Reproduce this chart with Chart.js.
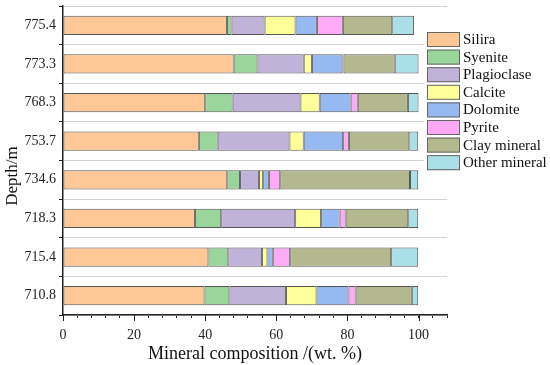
<!DOCTYPE html>
<html>
<head>
<meta charset="utf-8">
<script src="https://cdn.jsdelivr.net/npm/chart.js@4/dist/chart.umd.min.js"></script>
<style>
  html, body { margin: 0; padding: 0; background: #fff; }
  #wrap { width: 550px; height: 365px; position: relative; }
</style>
</head>
<body>
<div id="wrap"><canvas id="chart"></canvas></div>
<script>
const depths = ['775.4', '773.3', '768.3', '753.7', '734.6', '718.3', '715.4', '710.8'];

// wt. % per mineral, same order as depths
const silira      = [46.1, 48.0, 40.0, 38.2, 46.2, 37.1, 40.9, 39.8];
const syenite     = [1.3, 6.7, 7.7, 5.3, 3.6, 7.4, 5.6, 7.0];
const plagioclase = [9.3, 13.0, 19.1, 20.2, 5.3, 20.8, 9.5, 15.9];
const calcite     = [8.7, 2.3, 5.4, 4.0, 1.2, 7.3, 1.5, 8.6];
const dolomite    = [6.0, 8.6, 8.7, 11.1, 1.6, 5.2, 1.5, 9.0];
const pyrite      = [7.3, 0.3, 2.0, 1.6, 3.2, 1.7, 4.9, 2.0];
const clay        = [13.9, 14.4, 14.1, 17.0, 36.5, 17.6, 28.4, 15.8];
const other       = [6.1, 6.7, 3.0, 2.5, 2.3, 2.8, 7.6, 1.8];

const mineralNames = ['Silira', 'Syenite', 'Plagioclase', 'Calcite', 'Dolomite', 'Pyrite', 'Clay mineral', 'Other mineral'];
const mineralValues = [silira, syenite, plagioclase, calcite, dolomite, pyrite, clay, other];
const colors = ['#FDC896', '#9AD69C', '#C0B2D9', '#FFFF99', '#97B9F1', '#FEAAF6', '#B3B88F', '#AADFE7'];

const serif = '"Liberation Serif", "DejaVu Serif", serif';

// legend + y title drawn by hand so they can sit where the original puts them
const decor = {
  id: 'decor',
  afterDraw(chart) {
    const ctx = chart.ctx;
    const xs = chart.scales.x;
    ctx.save();

    // major ticks on x are longer than minor ones
    ctx.strokeStyle = '#222';
    ctx.lineWidth = 1;
    for (let v = 0; v <= 100; v += 20) {
      const px = Math.round(xs.getPixelForValue(v)) + 0.5;
      ctx.beginPath();
      ctx.moveTo(px, xs.top);
      ctx.lineTo(px, xs.top + 6);
      ctx.stroke();
    }

    // legend
    ctx.fillStyle = '#fff';
    ctx.fillRect(424, 28, 126, 148);
    ctx.font = '15px ' + serif;
    ctx.textBaseline = 'middle';
    chart.data.datasets.forEach((ds, i) => {
      const y = 32 + i * 17.6;
      ctx.fillStyle = ds.backgroundColor;
      ctx.fillRect(427, y, 33, 15);
      ctx.strokeStyle = '#666';
      ctx.strokeRect(427.5, y + 0.5, 32, 14);
      ctx.fillStyle = '#111';
      ctx.fillText(ds.label, 463, y + 8);
    });

    // y axis title
    ctx.translate(13, 176);
    ctx.rotate(-Math.PI / 2);
    ctx.font = '17px ' + serif;
    ctx.textAlign = 'center';
    ctx.fillStyle = '#111';
    ctx.fillText('Depth/m', 0, 0);
    ctx.restore();
  }
};

new Chart(document.getElementById('chart'), {
  type: 'bar',
  data: {
    labels: depths,
    datasets: mineralNames.map((name, i) => ({
      label: name,
      data: mineralValues[i],
      backgroundColor: colors[i],
      borderColor: '#555',
      borderWidth: 1,
      borderSkipped: false,
      categoryPercentage: 1,
      barPercentage: 0.5
    }))
  },
  options: {
    indexAxis: 'y',
    responsive: true,
    maintainAspectRatio: false,
    animation: false,
    layout: { padding: { top: 6, right: 103, left: 0, bottom: 0 } },
    plugins: {
      legend: { display: false },
      tooltip: { enabled: false }
    },
    scales: {
      x: {
        stacked: true,
        min: 0,
        max: 108,
        afterFit(s) { s.height = 50; s.paddingLeft = 0; s.paddingRight = 0; },
        border: { color: '#222', width: 1.5 },
        grid: { drawOnChartArea: false, tickLength: 3, tickColor: '#222' },
        ticks: {
          stepSize: 4,
          autoSkip: false,
          maxRotation: 0,
          padding: 9,
          color: '#222',
          font: { family: serif, size: 14 },
          callback: v => (v % 20 === 0 && v <= 100) ? v : ''
        },
        title: {
          display: true,
          text: 'Mineral composition /(wt. %)',
          color: '#111',
          font: { family: serif, size: 18 },
          padding: { top: 0, bottom: 0 }
        }
      },
      y: {
        stacked: true,
        afterFit(s) { s.width = 63; s.paddingTop = 0; s.paddingBottom = 0; },
        border: { color: '#222', width: 1.5 },
        grid: {
          offset: true,
          color: '#d4d4d4',
          borderDash: [1, 2],
          tickLength: 4,
          tickColor: '#222',
          tickBorderDash: []
        },
        ticks: {
          padding: 3,
          color: '#222',
          font: { family: serif, size: 14 }
        }
      }
    }
  },
  plugins: [decor]
});
</script>
</body>
</html>
